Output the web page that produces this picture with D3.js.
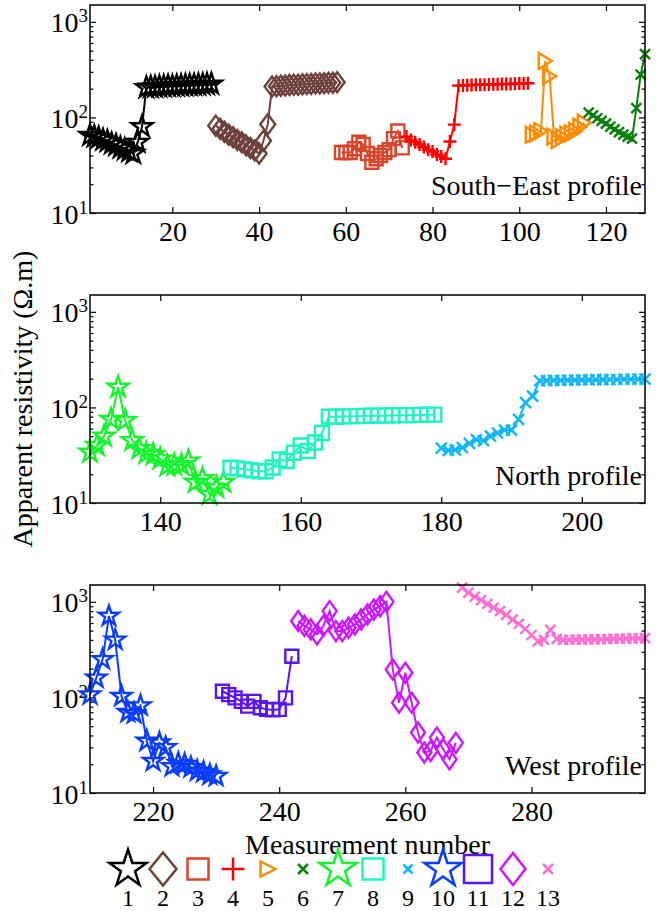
<!DOCTYPE html>
<html>
<head>
<meta charset="utf-8">
<script src="https://cdnjs.cloudflare.com/ajax/libs/d3/7.8.5/d3.min.js"></script>
<style>
  body { margin: 0; background: #fff; }
  svg text { font-family: "Liberation Serif", "Times New Roman", serif; fill: #000; }
</style>
</head>
<body>
<script>
// apparent resistivity (ohm.m) per measurement, one array per series
var s1 = [65, 63, 61, 58, 56, 53, 51, 48, 46, 44, 42, 55, 80, 205, 207, 208, 210, 211, 212, 213, 214, 215, 216, 217, 218, 219, 220, 221, 223];
var s2 = [82, 76, 71, 66, 62, 58, 55, 51, 48, 45, 42, 57, 85, 210, 212, 214, 216, 218, 219, 220, 222, 223, 224, 226, 227, 228, 230, 231, 233];
var s3 = [43, 43, 43, 47, 55, 52, 42, 34, 37, 40, 43, 46, 60, 72, 48];
var s4 = [63, 58, 55, 52, 49, 46, 44, 41, 39, 37, 56, 84, 215, 216, 217, 218, 219, 220, 220, 221, 222, 222, 223, 224, 224, 225, 226, 227, 228];
var s5 = [66, 68, 72, 390, 270, 63, 58, 62, 66, 68, 72, 80, 88];
var s6 = [112, 105, 98, 92, 86, 80, 75, 70, 66, 63, 60, 125, 280, 460];
var s7 = [34, 40, 50, 75, 163, 73, 45, 37, 33, 32, 29, 24.5, 25, 25, 27.5, 16.5, 18, 12.3, 14.5, 16.5];
var s8 = [23.4, 23, 22.5, 22, 21.5, 21.5, 23.5, 28.5, 27.5, 33.5, 40, 35, 43, 54, 80, 80, 80.5, 81, 81, 81.5, 82, 82, 82, 82.5, 83, 83, 83, 83.5, 84, 84];
var s9 = [37.5, 35.5, 36, 38, 42, 46, 45, 50, 54, 58, 58, 75, 112, 131, 190, 191, 192, 192, 193, 193, 194, 194, 195, 195, 196, 196, 197, 197, 198, 198];
var s10 = [107, 160, 250, 710, 400, 103, 70, 68, 82, 35, 21.5, 33.5, 30, 19, 20.5, 20, 18.5, 17, 16.5, 15.5, 15];
var s11 = [116, 107, 99, 91, 81, 91, 78, 75, 74, 75, 99, 270];
var s12 = [630, 560, 515, 457, 560, 800, 494, 494, 535, 580, 655, 740, 830, 900, 1000, 196, 88, 181, 88, 43, 26.5, 27.5, 38, 28.5, 22.5, 33.5];
var s13 = [1410, 1250, 1130, 1040, 950, 870, 800, 730, 650, 590, 520, 450, 385, 400, 510, 410, 400, 401, 402, 403, 404, 405, 406, 408, 410, 411, 412, 414, 415, 417];

var seriesValues = [s1, s2, s3, s4, s5, s6, s7, s8, s9, s10, s11, s12, s13];
// measurement number of the first value of each series
var seriesStart = [1, 30, 59, 74, 103, 116, 130, 150, 180, 210, 231, 243, 269];
var legendLabels = ["1", "2", "3", "4", "5", "6", "7", "8", "9", "10", "11", "12", "13"];

var profileNames = ["South\u2212East profile", "North profile", "West profile"];
var panelSeries = [[0, 1, 2, 3, 4, 5], [6, 7, 8], [9, 10, 11, 12]];
var xDomains = [[1, 129], [130, 209], [210, 298]];
var xTicks = [[20, 40, 60, 80, 100, 120], [140, 160, 180, 200], [220, 240, 260, 280]];
var yDomain = [10, 1500];
var yTicks = [10, 100, 1000];
var yExps = ["1", "2", "3"];

// styles
var colors = ["#000000", "#6e413c", "#d9452b", "#ff0000", "#ff8c00", "#0a800a", "#14f52d",
              "#1ef5c3", "#0fb6f8", "#0a3cff", "#5a14f0", "#cc17ff", "#ff6ed2"];
var shapes = ["star", "diamond", "square", "plus", "tri", "x", "star", "square", "x", "star", "square", "diamond", "x"];
var plotSize = [[11], [7.5, 10], [6.5], [6.5], [6.5, 8], [5], [11], [7], [5.5], [10.5], [6.5], [7, 10], [5]];
var legendSize = [[19.5], [13.5, 16.5], [10.5], [11.5], [7.5, 7.5], [5], [19.5], [10.5], [4.5], [19.5], [14], [12.5, 16], [5]];

var W = 664, H = 911;
var left = 90, right = 645;
var panelTop = [5, 295, 585], panelH = 208;
var plotW = right - left;

var svg = d3.select("body").append("svg").attr("width", W).attr("height", H);

function markerPath(shape, s) {
  var a = s[0], b = s.length > 1 ? s[1] : s[0];
  if (shape === "star") {
    var pts = [];
    for (var i = 0; i < 10; i++) {
      var ang = -Math.PI / 2 + i * Math.PI / 5;
      var r = i % 2 === 0 ? a : a * 0.382;
      pts.push([r * Math.cos(ang), r * Math.sin(ang)]);
    }
    return "M" + pts.join("L") + "Z";
  }
  if (shape === "diamond") return "M0," + (-b) + "L" + a + ",0L0," + b + "L" + (-a) + ",0Z";
  if (shape === "square") return "M" + (-a) + "," + (-a) + "H" + a + "V" + a + "H" + (-a) + "Z";
  if (shape === "plus") return "M" + (-a) + ",0H" + a + "M0," + (-a) + "V" + a;
  if (shape === "tri") return "M" + a + ",0L" + (-a) + "," + (-b) + "L" + (-a) + "," + b + "Z";
  return "M" + (-a) + "," + (-a) + "L" + a + "," + a + "M" + (-a) + "," + a + "L" + a + "," + (-a);
}

panelSeries.forEach(function(list, k) {
  var g = svg.append("g").attr("transform", "translate(" + left + "," + panelTop[k] + ")");
  var x = d3.scaleLinear().domain(xDomains[k]).range([0, plotW]);
  var y = d3.scaleLog().domain(yDomain).range([panelH, 0]);

  var minor = [];
  yTicks.forEach(function(t) { for (var m = 2; m < 10; m++) if (t * m < yDomain[1]) minor.push(t * m); });

  // ticks inside the box, on all four sides
  var bottom = g.append("g").attr("transform", "translate(0," + panelH + ")")
      .call(d3.axisBottom(x).tickValues(xTicks[k]).tickSize(-6).tickPadding(8));
  bottom.selectAll("text").attr("font-size", 28);
  g.append("g").call(d3.axisTop(x).tickValues(xTicks[k]).tickSize(-6).tickFormat(""));
  g.append("g").call(d3.axisLeft(y).tickValues(yTicks).tickSize(-6).tickFormat(""));
  g.append("g").call(d3.axisLeft(y).tickValues(minor).tickSize(-3.5).tickFormat(""));
  g.append("g").attr("transform", "translate(" + plotW + ",0)")
      .call(d3.axisRight(y).tickValues(yTicks).tickSize(-6).tickFormat(""));
  g.append("g").attr("transform", "translate(" + plotW + ",0)")
      .call(d3.axisRight(y).tickValues(minor).tickSize(-3.5).tickFormat(""));
  g.selectAll(".domain").remove();
  g.selectAll(".tick line").attr("stroke", "#000").attr("stroke-width", 1.2);

  yTicks.forEach(function(t, i) {
    var txt = g.append("text").attr("x", -2).attr("y", y(t) + 10.5).attr("text-anchor", "end");
    txt.append("tspan").attr("font-size", 28).text("10");
    txt.append("tspan").attr("font-size", 19).attr("dy", -10).text(yExps[i]);
  });

  var line = d3.line().x(function(d) { return x(d[0]); }).y(function(d) { return y(d[1]); });

  list.forEach(function(si) {
    var pts = seriesValues[si].map(function(v, i) { return [seriesStart[si] + i, v]; });
    g.append("path").datum(pts).attr("d", line)
      .attr("fill", "none").attr("stroke", colors[si]).attr("stroke-width", 2);
    g.append("g").selectAll("path").data(pts).enter().append("path")
      .attr("transform", function(d) { return "translate(" + x(d[0]) + "," + y(d[1]) + ")"; })
      .attr("d", markerPath(shapes[si], plotSize[si]))
      .attr("fill", "none").attr("stroke", colors[si]).attr("stroke-width", 2.4)
      .attr("stroke-linejoin", "miter");
  });

  g.append("text").attr("x", plotW - 3).attr("y", panelH - 18.5)
    .attr("text-anchor", "end").attr("font-size", 28).text(profileNames[k]);

  g.append("rect").attr("width", plotW).attr("height", panelH)
    .attr("fill", "none").attr("stroke", "#000").attr("stroke-width", 1.5);
});

svg.append("text")
  .attr("transform", "translate(32," + (panelTop[1] + panelH / 2) + ") rotate(-90)")
  .attr("text-anchor", "middle").attr("font-size", 28)
  .text("Apparent resistivity (\u03A9.m)");

svg.append("text").attr("x", left + plotW / 2).attr("y", 854)
  .attr("text-anchor", "middle").attr("font-size", 28).text("Measurement number");

var lx = d3.scalePoint().domain(legendLabels).range([128, 548]);
var legend = svg.append("g").selectAll("g").data(legendLabels).enter().append("g")
  .attr("transform", function(d) { return "translate(" + lx(d) + ",0)"; });
legend.append("path")
  .attr("transform", "translate(0,869)")
  .attr("d", function(d, i) { return markerPath(shapes[i], legendSize[i]); })
  .attr("fill", "none").attr("stroke", function(d, i) { return colors[i]; })
  .attr("stroke-width", 2.5);
legend.append("text").attr("y", 906).attr("text-anchor", "middle").attr("font-size", 24)
  .text(function(d) { return d; });
</script>
</body>
</html>
